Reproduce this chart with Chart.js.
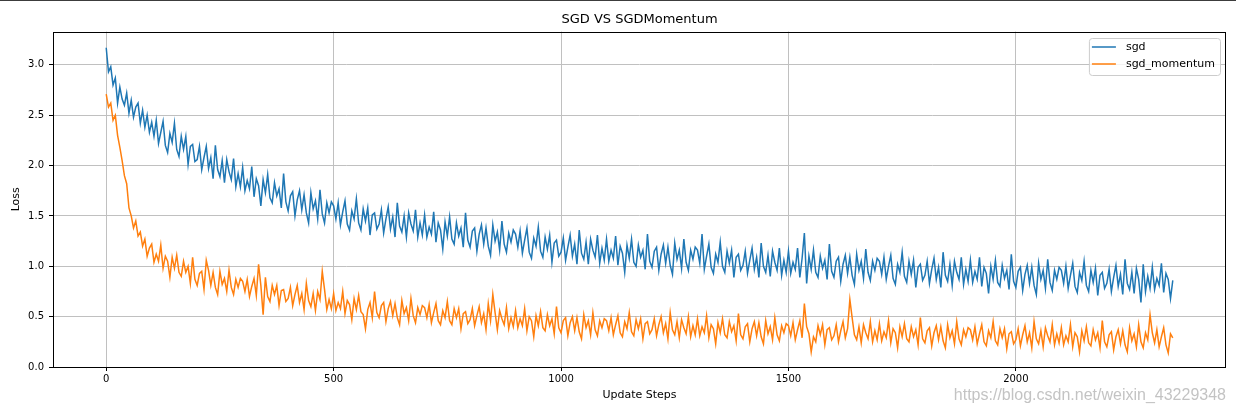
<!DOCTYPE html>
<html>
<head>
<meta charset="utf-8">
<title>SGD VS SGDMomentum</title>
<script src="https://cdn.jsdelivr.net/npm/chart.js@4/dist/chart.umd.min.js"></script>
<style>
  body { margin: 0; background: #fff; }
  canvas { display: block; }
</style>
</head>
<body>
<canvas id="lossChart" width="1236" height="414"></canvas>
<script>
// one reading every 5 update steps (20 readings per row = 100 steps)
const stepEvery = 5;
const seriesNames = ['sgd', 'sgd_momentum'];
const xTicks = [0, 500, 1000, 1500, 2000];
const yTicks = [0, 0.5, 1, 1.5, 2, 2.5, 3];

const sgdLoss = [
  3.17, 2.93, 2.98, 2.8, 2.87, 2.62, 2.78, 2.66, 2.6, 2.72, 2.52, 2.65, 2.48, 2.58, 2.62, 2.42, 2.55, 2.38, 2.5, 2.33,
  2.43, 2.29, 2.45, 2.22, 2.33, 2.44, 2.2, 2.13, 2.32, 2.23, 2.42, 2.16, 2.09, 2.29, 2.16, 2.29, 2.01, 2.19, 2.21, 2.04,
  2.06, 2.19, 1.96, 2.08, 2.19, 1.97, 2.08, 1.87, 2.2, 1.96, 1.89, 2.05, 1.83, 2.06, 1.94, 1.86, 2.07, 1.79, 1.92, 1.79,
  1.98, 1.75, 1.85, 1.77, 1.99, 1.69, 1.87, 1.8, 1.6, 1.86, 1.73, 1.91, 1.68, 1.63, 1.83, 1.7, 1.77, 1.58, 1.92, 1.64,
  1.55, 1.7, 1.74, 1.5, 1.66, 1.75, 1.56, 1.71, 1.53, 1.43, 1.73, 1.57, 1.65, 1.47, 1.76, 1.52, 1.43, 1.63, 1.53, 1.64,
  1.6, 1.47, 1.63, 1.41, 1.54, 1.65, 1.42, 1.36, 1.55, 1.47, 1.67, 1.43, 1.36, 1.57, 1.45, 1.58, 1.31, 1.51, 1.53, 1.37,
  1.42, 1.56, 1.33, 1.47, 1.59, 1.37, 1.49, 1.29, 1.63, 1.4, 1.34, 1.5, 1.29, 1.53, 1.42, 1.35, 1.56, 1.29, 1.43, 1.31,
  1.51, 1.29, 1.39, 1.32, 1.54, 1.24, 1.43, 1.36, 1.17, 1.44, 1.3, 1.49, 1.27, 1.22, 1.43, 1.3, 1.38, 1.19, 1.53, 1.26,
  1.19, 1.35, 1.38, 1.15, 1.32, 1.41, 1.22, 1.38, 1.2, 1.11, 1.41, 1.25, 1.34, 1.16, 1.45, 1.22, 1.14, 1.33, 1.24, 1.36,
  1.32, 1.19, 1.35, 1.13, 1.26, 1.38, 1.14, 1.08, 1.28, 1.2, 1.39, 1.15, 1.09, 1.29, 1.17, 1.31, 1.04, 1.23, 1.26, 1.1,
  1.14, 1.28, 1.06, 1.19, 1.31, 1.1, 1.22, 1.02, 1.36, 1.13, 1.07, 1.24, 1.02, 1.27, 1.16, 1.09, 1.31, 1.03, 1.18, 1.06,
  1.27, 1.05, 1.16, 1.08, 1.3, 1.01, 1.2, 1.13, 0.94, 1.21, 1.08, 1.27, 1.04, 1.0, 1.21, 1.09, 1.16, 0.97, 1.32, 1.05,
  0.99, 1.15, 1.19, 0.96, 1.12, 1.21, 1.03, 1.19, 1.01, 0.92, 1.23, 1.07, 1.16, 0.98, 1.27, 1.04, 0.96, 1.16, 1.07, 1.19,
  1.16, 1.03, 1.32, 0.97, 1.1, 1.22, 0.99, 0.93, 1.12, 1.04, 1.24, 1.0, 0.94, 1.15, 1.03, 1.16, 0.89, 1.09, 1.12, 0.96,
  1.01, 1.15, 0.93, 1.06, 1.18, 0.97, 1.09, 0.89, 1.23, 1.0, 0.94, 1.11, 0.9, 1.15, 1.04, 0.96, 1.18, 0.91, 1.06, 0.94,
  1.15, 0.93, 1.04, 0.97, 1.18, 0.89, 1.08, 1.33, 0.83, 1.1, 0.97, 1.16, 0.94, 0.89, 1.1, 0.98, 1.06, 0.87, 1.22, 0.95,
  0.89, 1.05, 1.09, 0.85, 1.02, 1.11, 0.93, 1.09, 0.91, 0.82, 1.12, 0.96, 1.05, 0.88, 1.17, 0.94, 0.86, 1.05, 0.96, 1.08,
  1.05, 0.92, 1.09, 0.87, 1.0, 1.11, 0.88, 0.82, 1.02, 0.94, 1.14, 0.9, 0.84, 1.05, 0.92, 1.06, 0.79, 0.99, 1.02, 0.86,
  0.91, 1.05, 0.83, 0.97, 1.08, 0.87, 0.99, 0.79, 1.14, 0.91, 0.85, 1.02, 0.81, 1.05, 0.94, 0.87, 1.09, 0.82, 0.97, 0.85,
  1.06, 0.84, 0.95, 0.87, 1.09, 0.8, 0.99, 0.93, 0.73, 1.0, 0.87, 1.06, 0.84, 0.8, 1.01, 0.88, 0.96, 0.77, 1.12, 0.85,
  0.79, 0.95, 0.99, 0.76, 0.92, 1.01, 0.83, 0.99, 0.81, 0.72, 1.03, 0.87, 0.96, 0.78, 1.07, 0.84, 0.76, 0.96, 0.87, 0.99,
  0.96, 0.83, 1.0, 0.78, 0.91, 1.03, 0.8, 0.74, 0.94, 0.86, 1.05, 0.81, 0.75, 0.96, 0.84, 0.98, 0.71, 0.91, 0.94, 0.78,
  0.83, 0.97, 0.75, 0.89, 1.01, 0.8, 0.92, 0.72, 1.07, 0.83, 0.77, 0.94, 0.73, 0.98, 0.87, 0.64, 1.02, 0.75, 0.9, 0.78,
  0.99, 0.77, 0.88, 0.81, 1.03, 0.74, 0.93, 0.87, 0.68, 0.86
];

const momentumLoss = [
  2.71, 2.58, 2.62, 2.45, 2.5, 2.3, 2.18, 2.05, 1.9, 1.82, 1.58, 1.5, 1.38, 1.45, 1.3, 1.34, 1.2, 1.27, 1.1, 1.18,
  1.22, 1.04, 1.12, 1.05, 1.21, 0.98, 1.1, 1.05, 0.89, 1.09, 0.98, 1.11, 0.94, 0.9, 1.05, 0.94, 1.0, 0.83, 1.09, 0.87,
  0.81, 0.93, 0.95, 0.77, 1.06, 0.96, 0.81, 0.94, 0.79, 0.72, 0.95, 0.82, 0.88, 0.75, 0.96, 0.79, 0.72, 0.87, 0.79, 0.88,
  0.85, 0.75, 0.87, 0.7, 0.8, 0.88, 0.71, 1.02, 0.81, 0.52, 0.89, 0.7, 0.65, 0.81, 0.72, 0.81, 0.61, 0.76, 0.77, 0.65,
  0.68, 0.79, 0.61, 0.72, 0.81, 0.64, 0.73, 0.57, 0.83, 0.66, 0.6, 0.73, 0.56, 0.75, 0.67, 0.95, 0.77, 0.57, 0.67, 0.58,
  0.73, 0.56, 0.64, 0.58, 0.75, 0.53, 0.66, 0.62, 0.47, 0.68, 0.57, 0.71, 0.55, 0.52, 0.38, 0.57, 0.64, 0.49, 0.75, 0.54,
  0.49, 0.61, 0.64, 0.45, 0.58, 0.65, 0.51, 0.63, 0.49, 0.42, 0.66, 0.53, 0.59, 0.46, 0.68, 0.51, 0.44, 0.59, 0.52, 0.61,
  0.59, 0.49, 0.62, 0.44, 0.54, 0.63, 0.46, 0.42, 0.56, 0.49, 0.65, 0.46, 0.42, 0.58, 0.49, 0.58, 0.38, 0.53, 0.55, 0.43,
  0.47, 0.58, 0.41, 0.51, 0.6, 0.44, 0.53, 0.37, 0.63, 0.46, 0.72, 0.54, 0.37, 0.56, 0.48, 0.42, 0.59, 0.38, 0.49, 0.4,
  0.56, 0.39, 0.48, 0.41, 0.58, 0.36, 0.5, 0.46, 0.3, 0.51, 0.41, 0.55, 0.39, 0.36, 0.52, 0.41, 0.48, 0.33, 0.6, 0.39,
  0.34, 0.46, 0.49, 0.31, 0.44, 0.5, 0.36, 0.49, 0.35, 0.28, 0.52, 0.39, 0.46, 0.32, 0.54, 0.37, 0.31, 0.46, 0.39, 0.48,
  0.46, 0.36, 0.49, 0.32, 0.42, 0.51, 0.34, 0.3, 0.45, 0.38, 0.54, 0.35, 0.31, 0.47, 0.38, 0.48, 0.28, 0.43, 0.45, 0.33,
  0.37, 0.48, 0.31, 0.42, 0.5, 0.34, 0.43, 0.28, 0.54, 0.37, 0.32, 0.45, 0.29, 0.47, 0.39, 0.33, 0.5, 0.3, 0.41, 0.32,
  0.48, 0.31, 0.4, 0.34, 0.51, 0.29, 0.42, 0.38, 0.23, 0.44, 0.34, 0.48, 0.32, 0.29, 0.45, 0.35, 0.41, 0.26, 0.53, 0.32,
  0.28, 0.4, 0.43, 0.25, 0.38, 0.45, 0.31, 0.44, 0.3, 0.23, 0.46, 0.33, 0.4, 0.27, 0.49, 0.32, 0.26, 0.41, 0.34, 0.43,
  0.41, 0.31, 0.44, 0.27, 0.37, 0.46, 0.29, 0.63, 0.4, 0.33, 0.15, 0.3, 0.25, 0.41, 0.32, 0.42, 0.22, 0.37, 0.39, 0.27,
  0.31, 0.42, 0.25, 0.36, 0.45, 0.29, 0.38, 0.67, 0.49, 0.32, 0.27, 0.4, 0.24, 0.42, 0.34, 0.28, 0.45, 0.25, 0.36, 0.27,
  0.43, 0.26, 0.35, 0.29, 0.46, 0.24, 0.38, 0.34, 0.19, 0.4, 0.3, 0.43, 0.28, 0.25, 0.4, 0.3, 0.37, 0.22, 0.49, 0.28,
  0.24, 0.36, 0.39, 0.21, 0.34, 0.41, 0.27, 0.4, 0.26, 0.19, 0.42, 0.29, 0.36, 0.23, 0.45, 0.28, 0.22, 0.37, 0.3, 0.39,
  0.37, 0.27, 0.4, 0.23, 0.33, 0.42, 0.25, 0.21, 0.36, 0.29, 0.45, 0.26, 0.22, 0.38, 0.29, 0.38, 0.18, 0.33, 0.35, 0.23,
  0.27, 0.38, 0.21, 0.32, 0.41, 0.25, 0.34, 0.19, 0.45, 0.28, 0.23, 0.36, 0.2, 0.39, 0.31, 0.25, 0.42, 0.22, 0.33, 0.24,
  0.39, 0.22, 0.31, 0.25, 0.42, 0.2, 0.34, 0.3, 0.15, 0.36, 0.26, 0.4, 0.24, 0.21, 0.37, 0.27, 0.34, 0.19, 0.46, 0.25,
  0.2, 0.32, 0.35, 0.17, 0.3, 0.37, 0.23, 0.36, 0.22, 0.15, 0.39, 0.26, 0.33, 0.2, 0.42, 0.25, 0.19, 0.34, 0.27, 0.52,
  0.34, 0.24, 0.37, 0.2, 0.3, 0.39, 0.22, 0.14, 0.33, 0.29
];

const steps = sgdLoss.map((_, i) => i * stepEvery);
const toPoints = (values) => values.map((v, i) => ({ x: steps[i], y: v }));

const FONT = '"DejaVu Sans", sans-serif';

// axes frame, legend box and the page decorations
const decorPlugin = {
  id: 'decor',
  beforeDraw(chart) {
    const ctx = chart.ctx;
    ctx.save();
    ctx.fillStyle = '#3c3c3c';
    ctx.fillRect(0, 0, chart.width, 1);
    ctx.restore();
  },
  afterDatasetsDraw(chart) {
    const { ctx, chartArea: a } = chart;
    ctx.save();
    ctx.strokeStyle = '#000';
    ctx.lineWidth = 1;
    ctx.strokeRect(Math.round(a.left) + 0.5, Math.round(a.top) + 0.5,
      Math.round(a.right - a.left) - 1, Math.round(a.bottom - a.top));

    // legend, upper right
    ctx.font = '11px ' + FONT;
    const textW = Math.max(...chart.data.datasets.map(d => ctx.measureText(d.label).width));
    const boxW = 37 + textW + 5;
    const boxH = 37;
    const boxR = Math.round(a.right) - 6;
    const boxT = Math.round(a.top) + 6;
    const boxL = boxR - boxW;
    ctx.beginPath();
    ctx.roundRect(boxL + 0.5, boxT + 0.5, boxW, boxH, 3);
    ctx.fillStyle = 'rgba(255,255,255,0.8)';
    ctx.fill();
    ctx.strokeStyle = '#cccccc';
    ctx.stroke();
    chart.data.datasets.forEach((d, i) => {
      const y = boxT + 9 + i * 17;
      ctx.beginPath();
      ctx.moveTo(boxL + 3, y);
      ctx.lineTo(boxL + 27, y);
      ctx.strokeStyle = d.borderColor;
      ctx.lineWidth = 1.5;
      ctx.stroke();
      ctx.fillStyle = '#000';
      ctx.textBaseline = 'middle';
      ctx.textAlign = 'left';
      ctx.fillText(d.label, boxL + 37, y + 0.5);
    });
    ctx.restore();
  },
  afterDraw(chart) {
    const ctx = chart.ctx;
    ctx.save();
    ctx.font = '16px "Liberation Sans", Arial, sans-serif';
    ctx.fillStyle = 'rgba(170,170,170,0.7)';
    ctx.textAlign = 'right';
    ctx.textBaseline = 'middle';
    ctx.fillText('https://blog.csdn.net/weixin_43229348', chart.width - 10, 396);
    ctx.restore();
  }
};

new Chart(document.getElementById('lossChart'), {
  type: 'line',
  data: {
    datasets: [
      {
        label: seriesNames[0],
        data: toPoints(sgdLoss),
        borderColor: '#1f77b4',
        borderWidth: 1.5,
        pointRadius: 0,
        tension: 0,
        order: 2
      },
      {
        label: seriesNames[1],
        data: toPoints(momentumLoss),
        borderColor: '#ff7f0e',
        borderWidth: 1.5,
        pointRadius: 0,
        tension: 0,
        order: 1
      }
    ]
  },
  options: {
    responsive: false,
    animation: false,
    layout: { padding: { left: 0, right: 10, top: 0, bottom: 0 } },
    scales: {
      x: {
        type: 'linear',
        min: -117,
        max: 2462,
        afterFit: (s) => { s.height = 47; },
        afterBuildTicks: (s) => { s.ticks = xTicks.map(v => ({ value: v })); },
        border: { display: false },
        grid: { color: '#c0c0c0', lineWidth: 1, tickColor: '#000', tickLength: 4 },
        ticks: { color: '#000', padding: 2, font: { family: FONT, size: 10 }, callback: (v) => String(v) },
        title: { display: true, text: 'Update Steps', color: '#000', font: { family: FONT, size: 11 }, padding: { top: 0, bottom: 12 } }
      },
      y: {
        min: 0,
        max: 3.33,
        afterFit: (s) => { s.width = 53; },
        afterBuildTicks: (s) => { s.ticks = yTicks.map(v => ({ value: v })); },
        border: { display: false },
        grid: { color: '#c0c0c0', lineWidth: 1, tickColor: '#000', tickLength: 4 },
        ticks: { color: '#000', padding: 5, font: { family: FONT, size: 10 }, callback: (v) => v.toFixed(1) },
        title: { display: true, text: 'Loss', color: '#000', font: { family: FONT, size: 11 }, padding: { top: 10, bottom: 0 } }
      }
    },
    plugins: {
      legend: { display: false },
      tooltip: { enabled: false },
      title: {
        display: true,
        text: 'SGD VS SGDMomentum',
        fullSize: false,
        color: '#000',
        font: { family: FONT, size: 13, weight: 'normal' },
        padding: { top: 12, bottom: 4 }
      }
    }
  },
  plugins: [decorPlugin]
});
</script>
</body>
</html>
